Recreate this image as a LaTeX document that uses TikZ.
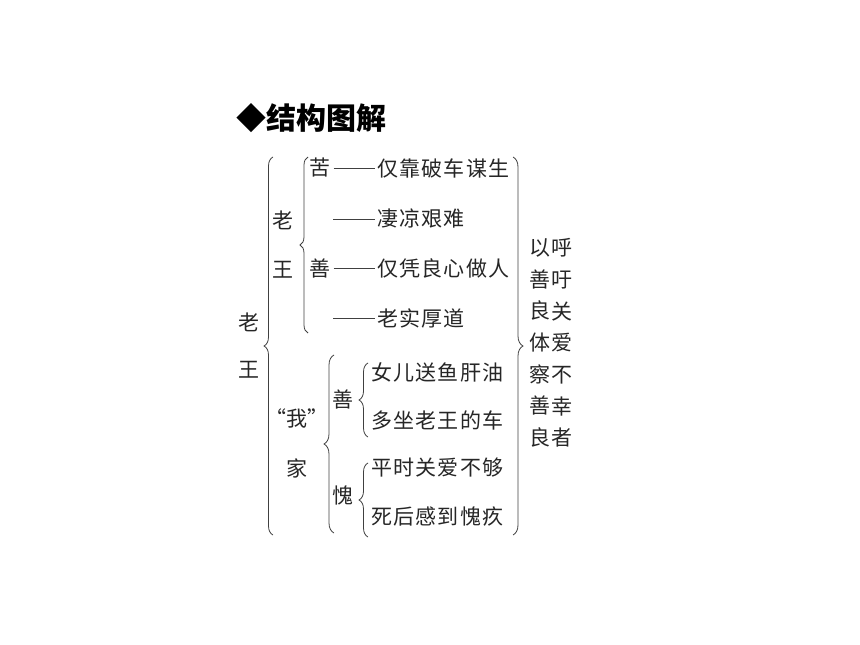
\documentclass[tikz,border=0pt]{standalone}
\usepackage{fontspec}
\setmainfont{Noto Sans CJK SC}
\newfontfamily\cjkrow[LetterSpace=6]{Noto Sans CJK SC}
\usetikzlibrary{decorations.pathreplacing}

\begin{document}
\begin{tikzpicture}[x=1pt,y=-1pt,
    every node/.style={inner sep=0pt,text=black!85,font=\fontsize{21}{24}\selectfont},
    title/.style={font=\bfseries\fontsize{30}{34}\selectfont,text=black},
    row/.style={anchor=west,font=\cjkrow\fontsize{21}{24}\selectfont},
    col/.style={align=center,font=\fontsize{21}{31.7}\selectfont},
    brc/.style={decorate,decoration={brace,amplitude=#1},draw=black!75,line width=0.8pt},
    dashline/.style={draw=black!75,line width=0.8pt}]
    \useasboundingbox (0,0) rectangle (860,645);
    \node[title,anchor=west] (title) at (236,118) {◆结构图解};
    % left part
    \draw[brc=9] (273,535) -- (273,157);
    \node (lao1) at (249,322) {老};
    \node (wang1) at (249,370) {王};
    \draw[brc=8] (308,333) -- (308,157);
    \node (lao2) at (283,220) {老};
    \node (wang2) at (283,270) {王};
    \node (ku) at (320,168) {苦};
    \node (shan1) at (320,268) {善};
    \node[row] (r1) at (377,168) {仅靠破车谋生};
    \node[row] (r2) at (377,219) {凄凉艰难};
    \node[row] (r3) at (377,268) {仅凭良心做人};
    \node[row] (r4) at (377,318) {老实厚道};
    \coordinate (d2) at (333,219);
    \coordinate (d4) at (333,318);
    \draw[dashline] ([xshift=3pt]ku.east) -- ([xshift=-2pt]r1.west);
    \draw[dashline] (d2) -- ([xshift=-2pt]r2.west);
    \draw[dashline] ([xshift=3pt]shan1.east) -- ([xshift=-2pt]r3.west);
    \draw[dashline] (d4) -- ([xshift=-2pt]r4.west);
    % "wo" jia
    \draw[brc=10] (334,533) -- (334,355);
    \node (wo) at (297,418) {“我”};
    \node (jia) at (297,468) {家};
    \node (shan2) at (343,399) {善};
    \node (kui) at (343,495) {愧};
    \draw[brc=9] (368,437) -- (368,363);
    \draw[brc=9] (368,537) -- (368,463);
    \node[row] (r5) at (371,372) {女儿送鱼肝油};
    \node[row] (r6) at (371,420) {多坐老王的车};
    \node[row] (r7) at (371,468) {平时关爱不够};
    \node[row] (r8) at (371,517) {死后感到愧疚};
    % right part
    \draw[brc=10] (513,157) -- (513,535);
    \node[col] (c1) at (540,343) {以\\善\\良\\体\\察\\善\\良};
    \node[col] (c2) at (562,343) {呼\\吁\\关\\爱\\不\\幸\\者};
\end{tikzpicture}
\end{document}
